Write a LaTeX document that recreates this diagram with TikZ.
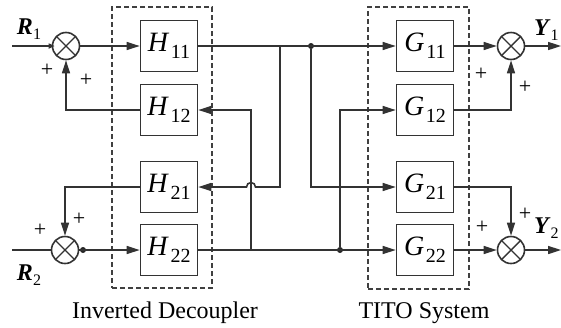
\documentclass[tikz,border=0pt]{standalone}
\usepackage{fontspec}
\setmainfont{Liberation Serif}
\usetikzlibrary{arrows.meta}
\newcommand{\tfsym}[2]{\textit{#1}\kern0.8pt\raisebox{-0.55ex}{\fontsize{10}{10}\selectfont #2}}
\newcommand{\tfsig}[2]{\textit{\textbf{#1}}\raisebox{-0.5ex}{\fontsize{8}{8}\selectfont #2}}
\tikzset{
  tdbox/.style={draw=black!80, line width=0.8pt, minimum width=28.5pt, minimum height=25.5pt,
    inner sep=0pt, font=\fontsize{14}{16}\selectfont, fill=white},
  tdsum/.style={circle, draw=black!80, line width=0.8pt, minimum size=13.5pt, inner sep=0pt,
    path picture={\draw[black!80, line width=0.7pt]
      (path picture bounding box.north west) -- (path picture bounding box.south east)
      (path picture bounding box.north east) -- (path picture bounding box.south west);}},
  tdframe/.style={draw=black!75, line width=0.7pt, dash pattern=on 2.5pt off 1.5pt},
  tdsign/.style={font=\fontsize{11}{12}\selectfont, inner sep=0pt},
  tdsig/.style={font=\fontsize{12}{14}\selectfont, inner sep=0pt},
  tdcap/.style={font=\fontsize{12}{14}\selectfont, inner sep=0pt},
  tddot/.style={circle, fill=black!85, inner sep=0pt, minimum size=3pt},
  tdline/.style={draw=black!80, line width=0.8pt},
  tdarrow/.style={tdline, -{Triangle[length=6.5pt,width=4pt]}},
  tdsmall/.style={tdline, -{Triangle[length=3pt,width=2.5pt]}}
}
\begin{document}
\begin{tikzpicture}[x=0.5pt, y=0.5pt]
  \useasboundingbox (0,0) rectangle (561,-327);
  % dashed groups
  \node[tdframe, minimum width=50pt, minimum height=140.5pt] (dec) at (162,-147.5) {};
  \node[tdframe, minimum width=50.5pt, minimum height=141pt] (tito) at (418.5,-148) {};
  \node[tdcap] (deccap) at (165,-313) {Inverted Decoupler};
  \node[tdcap] (titocap) at (424,-313) {TITO System};
  % blocks
  \node[tdbox] (H11) at (169,-46) {\tfsym{H}{11}};
  \node[tdbox] (H12) at (169,-110) {\tfsym{H}{12}};
  \node[tdbox] (H21) at (169,-187) {\tfsym{H}{21}};
  \node[tdbox] (H22) at (169,-250) {\tfsym{H}{22}};
  \node[tdbox] (G11) at (425,-46) {\tfsym{G}{11}};
  \node[tdbox] (G12) at (425,-110) {\tfsym{G}{12}};
  \node[tdbox] (G21) at (425,-187) {\tfsym{G}{21}};
  \node[tdbox] (G22) at (425,-250) {\tfsym{G}{22}};
  % summing junctions
  \node[tdsum] (s1) at (66,-46) {};
  \node[tdsum] (s2) at (65,-250) {};
  \node[tdsum] (s3) at (511,-46) {};
  \node[tdsum] (s4) at (511,-250) {};
  % signals
  \coordinate (r1in) at (12,-46);
  \coordinate (r2in) at (12,-250);
  \coordinate (y1out) at (561,-46);
  \coordinate (y2out) at (561,-250);
  \node[tdsig] (R1) at (29,-29) {\tfsig{R}{1}};
  \node[tdsig] (R2) at (29,-275) {\tfsig{R}{2}};
  \node[tdsig, anchor=east] (Y1) at (559,-30) {\tfsig{Y}{1}};
  \node[tdsig, anchor=east] (Y2) at (559,-228) {\tfsig{Y}{2}};
  % branch points
  \coordinate (b1) at (280,-46);
  \coordinate (b4) at (251,-250);
  \coordinate (hop) at (251,-187);
  \node[tddot] (d1) at (311,-46) {};
  \node[tddot] (d2) at (340,-250) {};
  \node[tddot] (d3) at (83,-250) {};
  % signs
  \node[tdsign] (p1) at (47,-70) {+};
  \node[tdsign] (p2) at (86,-80) {+};
  \node[tdsign] (p3) at (40,-230) {+};
  \node[tdsign] (p4) at (79,-219) {+};
  \node[tdsign] (p5) at (481,-74) {+};
  \node[tdsign] (p6) at (525,-87) {+};
  \node[tdsign] (p7) at (525,-214) {+};
  \node[tdsign] (p8) at (482,-227) {+};
  % decoupler
  \draw[tdsmall] (r1in) -- ([xshift=1.5pt]s1.west);
  \draw[tdarrow] (s1.east) -- (H11.west);
  \draw[tdarrow] (H12.west) -| (s1.south);
  \draw[tdline] (r2in) -- (s2.west);
  \draw[tdarrow] (s2.east) -- (H22.west);
  \draw[tdarrow] (H21.west) -| (s2.north);
  % cross links
  \draw[tdarrow] (H11.east) -- (G11.west);
  \draw[tdarrow] (H22.east) -- (G22.west);
  \draw[tdarrow] (b1) -- (b1 |- H21) -- ([xshift=2.25pt]hop)
    arc[start angle=0, end angle=180, radius=2.25pt] -- (H21.east);
  \draw[tdarrow] (b4) -- (b4 |- H12) -- (H12.east);
  \draw[tdarrow] (d1) -- (d1 |- G21) -- (G21.west);
  \draw[tdarrow] (d2) -- (d2 |- G12) -- (G12.west);
  % plant outputs
  \draw[tdarrow] (G11.east) -- (s3.west);
  \draw[tdarrow] (G12.east) -| (s3.south);
  \draw[tdarrow] (G21.east) -| (s4.north);
  \draw[tdarrow] (G22.east) -- (s4.west);
  \draw[tdarrow] (s3.east) -- (y1out);
  \draw[tdarrow] (s4.east) -- (y2out);
\end{tikzpicture}
\end{document}
